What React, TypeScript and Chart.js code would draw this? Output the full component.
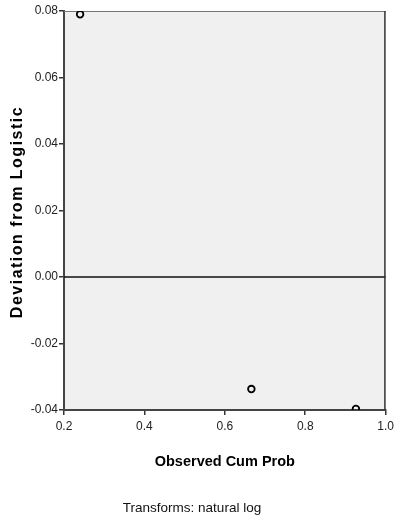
import React, { useEffect, useRef } from "react";
import { Chart, registerables } from "chart.js";

Chart.register(...registerables);

const observedCumProb = [0.24, 0.666, 0.926];
const deviationFromLogistic = [0.079, -0.0337, -0.0397];
const xTickValues = [0.2, 0.4, 0.6, 0.8, 1.0];
const yTickValues = [-0.04, -0.02, 0.0, 0.02, 0.04, 0.06, 0.08];
const xAxisTitle = "Observed Cum Prob";
const yAxisTitle = "Deviation from Logistic";
const footnote = "Transforms: natural log";
const referenceY = 0;

const W = 398;
const H = 523;
const SANS = "'Liberation Sans', Arial, sans-serif";

const decorPlugin = {
  id: "decor",
  beforeDraw(chart: any) {
    const { ctx, chartArea } = chart;
    ctx.save();
    ctx.fillStyle = "#f0f0f0";
    ctx.fillRect(chartArea.left, chartArea.top, chartArea.right - chartArea.left, chartArea.bottom - chartArea.top);
    ctx.restore();
  },
  beforeDatasetsDraw(chart: any) {
    const { ctx, chartArea, scales } = chart;
    const y0 = Math.round(scales.y.getPixelForValue(referenceY));
    ctx.save();
    ctx.strokeStyle = "#111";
    ctx.lineWidth = 1.5;
    ctx.beginPath();
    ctx.moveTo(chartArea.left, y0);
    ctx.lineTo(chartArea.right, y0);
    ctx.stroke();
    // top and right frame
    ctx.lineWidth = 1;
    ctx.strokeStyle = "#777";
    ctx.beginPath();
    ctx.moveTo(chartArea.left, chartArea.top + 0.5);
    ctx.lineTo(chartArea.right, chartArea.top + 0.5);
    ctx.stroke();
    ctx.strokeStyle = "#333";
    ctx.lineWidth = 1.5;
    ctx.beginPath();
    ctx.moveTo(chartArea.right - 0.75, chartArea.top);
    ctx.lineTo(chartArea.right - 0.75, chartArea.bottom);
    ctx.stroke();
    ctx.restore();
  },
  afterDraw(chart: any) {
    const { ctx, chartArea } = chart;
    ctx.save();
    ctx.fillStyle = "#000";
    ctx.textAlign = "center";
    ctx.textBaseline = "middle";
    // x title
    ctx.font = "bold 14.5px " + SANS;
    ctx.fillText(xAxisTitle, (chartArea.left + chartArea.right) / 2, 462);
    // footnote
    ctx.font = "13.5px " + SANS;
    ctx.fillStyle = "#111";
    ctx.fillText(footnote, 192, 508);
    // y title
    ctx.save();
    ctx.translate(18, 212);
    ctx.rotate(-Math.PI / 2);
    ctx.fillStyle = "#000";
    ctx.font = "bold 16px " + SANS;
    try {
      (ctx as any).letterSpacing = "1.5px";
    } catch (e) {}
    ctx.fillText(yAxisTitle, 0, 0);
    ctx.restore();
    ctx.restore();
  },
};

export default function App() {
  const ref = useRef<HTMLCanvasElement | null>(null);
  useEffect(() => {
    document.body.style.margin = "0";
    const canvas = ref.current;
    if (!canvas) return;
    const chart = new Chart(canvas, {
      type: "scatter",
      data: {
        datasets: [
          {
            data: observedCumProb.map((x, i) => ({ x, y: deviationFromLogistic[i] })),
            pointRadius: 3.3,
            pointBorderWidth: 1.8,
            pointBorderColor: "#000",
            pointBackgroundColor: "rgba(0,0,0,0)",
            clip: 0,
          } as any,
        ],
      },
      options: {
        animation: false,
        responsive: false,
        devicePixelRatio: 1,
        layout: { padding: { top: 11, right: 11, left: 0, bottom: 0 } },
        plugins: { legend: { display: false }, tooltip: { enabled: false } },
        scales: {
          x: {
            type: "linear",
            min: 0.2,
            max: 1.0,
            afterBuildTicks: (s: any) => {
              s.ticks = xTickValues.map((v) => ({ value: v }));
            },
            afterFit: (s: any) => {
              s.height = 113;
            },
            ticks: {
              color: "#222",
              font: { family: SANS, size: 12 },
              padding: 4,
              maxRotation: 0,
              callback: (v: any) => Number(v).toFixed(1),
            },
            grid: { drawOnChartArea: false, drawTicks: true, tickLength: 5, color: "#333", lineWidth: 1.5 },
            border: { display: true, color: "#444", width: 2 },
          },
          y: {
            type: "linear",
            min: -0.04,
            max: 0.08,
            afterBuildTicks: (s: any) => {
              s.ticks = yTickValues.map((v) => ({ value: v }));
            },
            afterFit: (s: any) => {
              s.width = 64;
            },
            ticks: {
              color: "#222",
              font: { family: SANS, size: 12 },
              padding: 1,
              callback: (v: any) => Number(v).toFixed(2),
            },
            grid: { drawOnChartArea: false, drawTicks: true, tickLength: 5, color: "#333", lineWidth: 1.5 },
            border: { display: true, color: "#444", width: 2 },
          },
        },
      },
      plugins: [decorPlugin],
    });
    return () => chart.destroy();
  }, []);
  return (
    <div style={{ position: "relative", width: W, height: H }}>
      <canvas ref={ref} width={W} height={H} style={{ width: W, height: H, display: "block" }} />
    </div>
  );
}
